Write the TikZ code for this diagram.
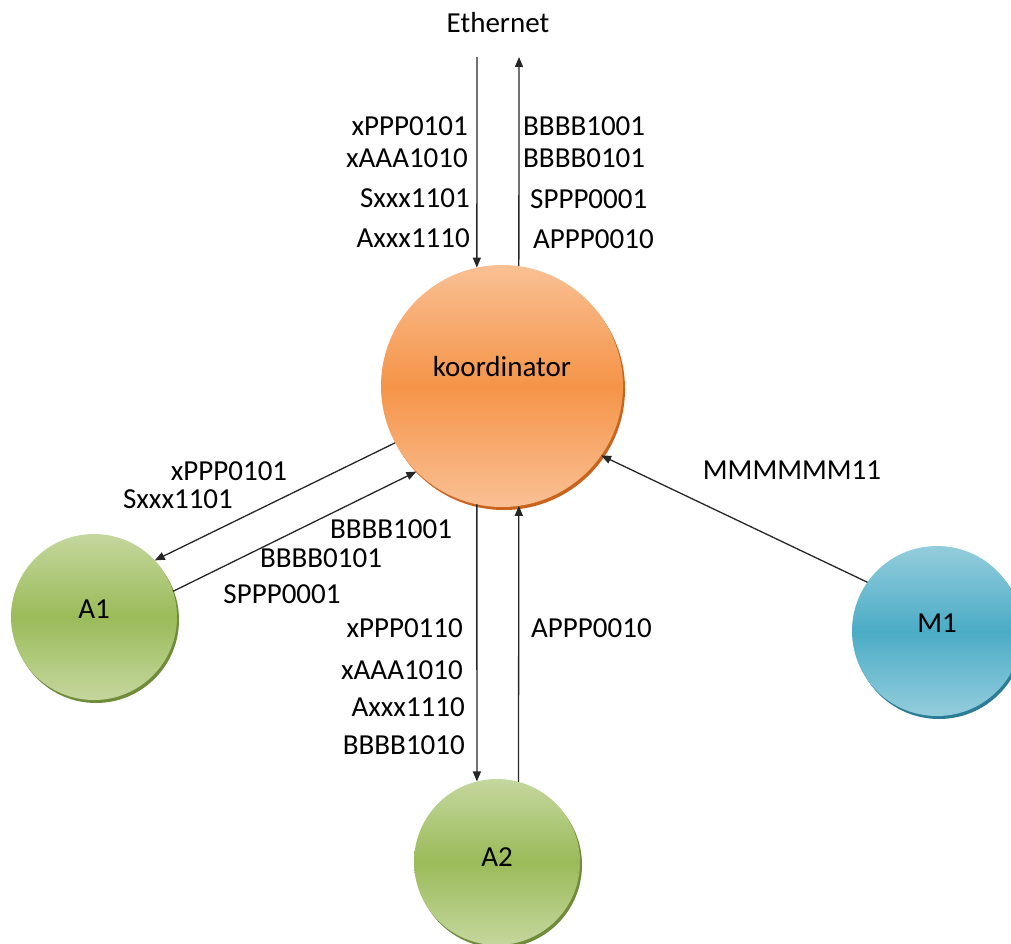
\documentclass[tikz,border=0pt]{standalone}
\usepackage{fontspec}
\setmainfont{Carlito}
\usepackage{tikz}
\usetikzlibrary{arrows.meta,shadows}
\definecolor{kor}{RGB}{245,148,72}
\definecolor{korl}{RGB}{249,192,148}
\definecolor{korr}{RGB}{200,100,30}
\definecolor{grn}{RGB}{155,187,89}
\definecolor{grnl}{RGB}{196,215,158}
\definecolor{grnr}{RGB}{112,140,58}
\definecolor{blu}{RGB}{75,172,198}
\definecolor{blul}{RGB}{148,205,220}
\definecolor{blur}{RGB}{42,125,150}

\begin{document}
\begin{tikzpicture}[x=1pt,y=-1pt,>={Triangle[length=10pt,width=8pt]},
  font=\fontsize{29}{34}\selectfont,
  ball/.style={circle,inner sep=0pt,outer sep=0pt},
  kball/.style={ball,minimum size=242pt,top color=korl,bottom color=korl,middle color=kor,
                drop shadow={shadow xshift=2pt,shadow yshift=-3pt,fill=korr,opacity=1}},
  gball/.style={ball,minimum size=166pt,top color=grnl,bottom color=grnl,middle color=grn,
                drop shadow={shadow xshift=2pt,shadow yshift=-3pt,fill=grnr,opacity=1}},
  bball/.style={ball,minimum size=170pt,top color=blul,bottom color=blul,middle color=blu,
                drop shadow={shadow xshift=2pt,shadow yshift=-3pt,fill=blur,opacity=1}},
  msg/.style={inner sep=0pt},
  link/.style={->,line width=1.3pt,black!85}]
  \useasboundingbox (0,0) rectangle (1011,944);

  % ---------- stations ----------
  \node[kball,label={[yshift=19pt]center:koordinator}] (koord) at (502,386) {};
  \node[gball,label={[yshift=8pt]center:A1}] (A1) at (94,617) {};
  \node[gball,label={[yshift=5pt]center:A2}] (A2) at (497,862) {};
  \node[bball,label={[yshift=8pt]center:M1}] (M1) at (937,631) {};
  \node[msg] (eth) at (498,23) {Ethernet};
  \coordinate (ein) at (477,57);
  \coordinate (eout) at (519,57);

  % ---------- links ----------
  \draw[link] (ein) -- (koord.102); \draw[link] (koord.82) -- (eout);
  \draw[link] (koord.208) -- (A1.43); \draw[link] (A1.18) -- (koord.225);
  \draw[link] (koord.258) -- (A2.104); \draw[link] (A2.75) -- (koord.278);
  \draw[link] (M1.145) -- (koord.325);

  % ---------- frames: Ethernet ----------
  \node[msg,anchor=east] (ed1) at (468,126) {xPPP0101};
  \node[msg,anchor=east] (ed2) at (468,158) {xAAA1010};
  \node[msg,anchor=east] (ed3) at (470,198) {Sxxx1101};
  \node[msg,anchor=east] (ed4) at (470,238) {Axxx1110};
  \node[msg,anchor=west] (eu1) at (523,126) {BBBB1001};
  \node[msg,anchor=west] (eu2) at (523,158) {BBBB0101};
  \node[msg,anchor=west] (eu3) at (530,199) {SPPP0001};
  \node[msg,anchor=west] (eu4) at (533,239) {APPP0010};

  % ---------- frames: A1 ----------
  \node[msg] (ad1) at (229,471) {xPPP0101};
  \node[msg] (ad2) at (178,499) {Sxxx1101};
  \node[msg] (au1) at (391,529) {BBBB1001};
  \node[msg] (au2) at (321,558) {BBBB0101};
  \node[msg] (au3) at (282,594) {SPPP0001};

  % ---------- frames: A2 ----------
  \node[msg,anchor=east] (bd1) at (463,628) {xPPP0110};
  \node[msg,anchor=east] (bd2) at (463,670) {xAAA1010};
  \node[msg,anchor=east] (bd3) at (465,707) {Axxx1110};
  \node[msg,anchor=east] (bd4) at (465,745) {BBBB1010};
  \node[msg,anchor=west] (bu1) at (531,628) {APPP0010};

  % ---------- frames: M1 ----------
  \node[msg] (mu1) at (792,470) {MMMMMM11};
\end{tikzpicture}
\end{document}
